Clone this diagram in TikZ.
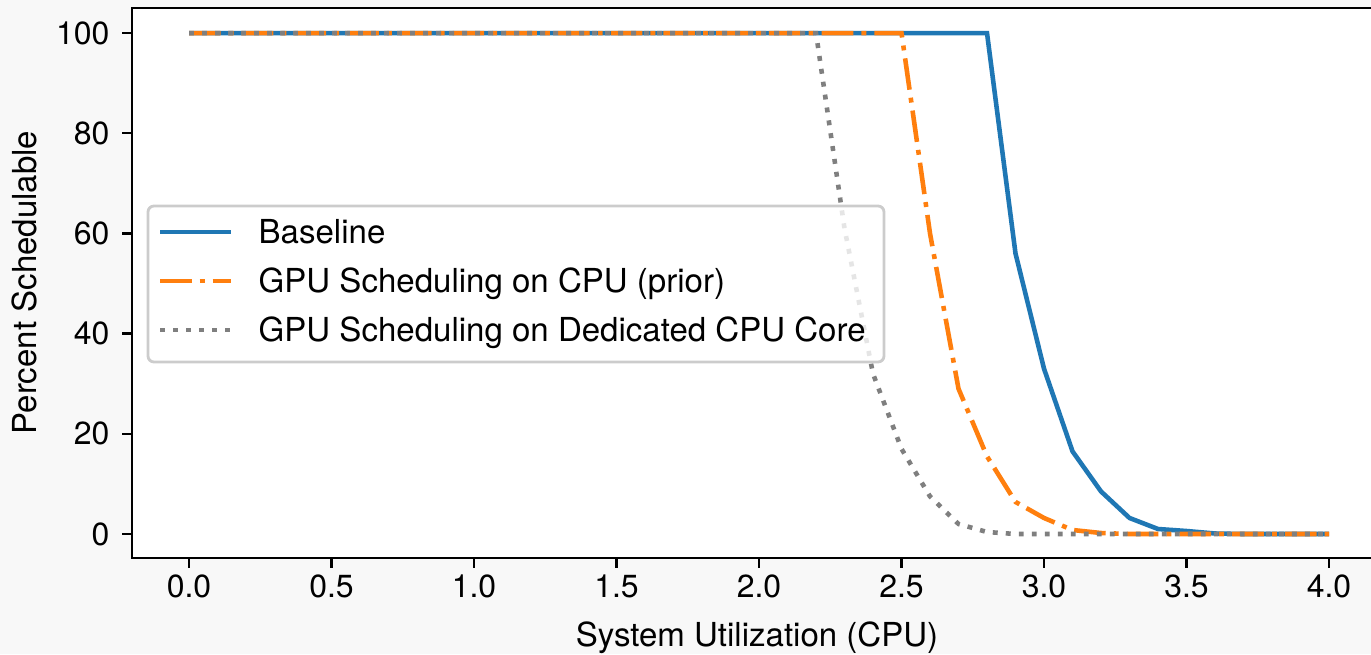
\documentclass[tikz,border=0pt]{standalone}
\usepackage{fontspec}
\setmainfont{TeX Gyre Heros}
\usetikzlibrary{positioning}

\definecolor{mplblue}{HTML}{1F77B4}
\definecolor{mplorange}{HTML}{FF7F0E}
\definecolor{mplgray}{HTML}{7F7F7F}
\definecolor{figbg}{HTML}{F8F8F8}

\begin{document}
\begin{tikzpicture}[
    every node/.style={font=\fontsize{9.4}{11}\selectfont},
    ticklabel/.style={inner sep=0pt, font=\fontsize{9.1}{11}\selectfont},
    baseline curve/.style={mplblue, line width=1.3pt},
    prior curve/.style={mplorange, line width=1.3pt,
        dash pattern=on 9pt off 2.3pt on 1.4pt off 2.3pt},
    dedicated curve/.style={mplgray, line width=1.3pt,
        dash pattern=on 1.4pt off 2.3pt},
    legendtext/.style={anchor=west, inner sep=0pt, text height=6.8pt, text depth=0pt}
]

    % Figure background and axes frame
    \useasboundingbox (0,0) rectangle (13.71,6.54);
    \fill[figbg] (0,0) rectangle (13.71,6.54);
    \fill[white] (1.32,0.96) rectangle (13.80,6.46);

    % Data curves (x in CPU, y in percent)
    \begin{scope}[shift={(1.89,1.20)}, x=2.85cm, y=0.0501cm]
        \draw[baseline curve] plot coordinates {
            (0,100) (2.8,100) (2.9,56) (3.0,33) (3.1,16.5) (3.2,8.5)
            (3.3,3.2) (3.4,1) (3.5,0.6) (3.6,0.1) (3.7,0) (4.0,0)};
        \draw[prior curve] plot coordinates {
            (0,100) (2.5,100) (2.6,60) (2.7,29) (2.8,15.5) (2.9,6.4)
            (3.0,3.2) (3.1,0.8) (3.2,0.2) (3.3,0) (4.0,0)};
        \draw[dedicated curve] plot coordinates {
            (0,100) (2.2,100) (2.3,61) (2.4,32) (2.5,17) (2.6,7.5)
            (2.7,2) (2.8,0.4) (2.9,0) (4.0,0)};

        % ticks and tick labels
        \foreach \x [count=\i] in {0.0,0.5,1.0,1.5,2.0,2.5,3.0,3.5,4.0} {
            \draw[line width=0.7pt] (\x,-4.8) -- ++(0,-0.1cm);
            \node[ticklabel] (xt\i) at (\x,-10.5) {\x};
        }
        \foreach \y in {0,20,40,60,80,100} {
            \draw[line width=0.7pt] (-0.2,\y) -- ++(-0.1cm,0);
            \node[ticklabel, anchor=east] (yt\y) at (-0.2765,\y) {\y};
        }
    \end{scope}

    % Axes spines
    \draw[line width=0.7pt] (13.80,0.96) -- (1.32,0.96) -- (1.32,6.46) -- (13.80,6.46);

    % Axis labels
    \node[anchor=base, inner sep=0pt] (xlabel) at (7.57,0.08) {System Utilization (CPU)};
    \node[rotate=90, anchor=base, inner sep=0pt] (ylabel) at (0.36,3.715) {Percent Schedulable};

    % Legend
    \draw[black!20, line width=0.8pt, fill=white, fill opacity=0.8, rounded corners=0.06cm]
        (1.48,2.92) rectangle (8.84,4.48);
    \coordinate (l1a) at (1.60,4.22);
    \coordinate (l1b) at (2.31,4.22);
    \coordinate (l2a) at (1.60,3.73);
    \coordinate (l2b) at (2.31,3.73);
    \coordinate (l3a) at (1.60,3.24);
    \coordinate (l3b) at (2.31,3.24);
    \draw[baseline curve] (l1a) -- (l1b);
    \draw[prior curve] (l2a) -- (l2b);
    \draw[dedicated curve] (l3a) -- (l3b);
    \node[legendtext, right=0.27cm of l1b] (base) {Baseline};
    \node[legendtext, right=0.27cm of l2b] (prior) {GPU Scheduling on CPU (prior)};
    \node[legendtext, right=0.27cm of l3b] (dedic) {GPU Scheduling on Dedicated CPU Core};

\end{tikzpicture}
\end{document}
